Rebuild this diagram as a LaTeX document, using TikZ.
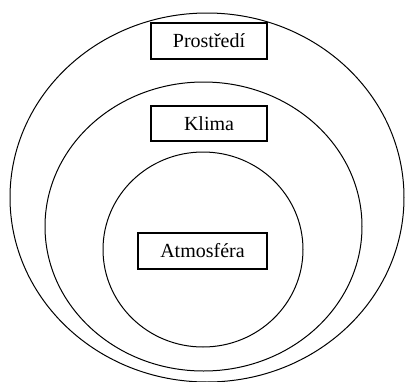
\documentclass[tikz,border=0pt]{standalone}
\usepackage{fontspec}
\setmainfont{Liberation Serif}
\begin{document}
\begin{tikzpicture}[x=1pt,y=-1pt,
  ring/.style={draw=black,line width=1pt},
  label box/.style={draw=black,line width=1.2pt,minimum height=36pt,inner sep=0pt,font=\fontsize{20}{22}\selectfont}]
\useasboundingbox (0,0) rectangle (405,381);
\clip (0,0) rectangle (405,381);
\draw[ring] (207,197.5) ellipse [x radius=197, y radius=184.5];
\draw[ring] (203.5,226.5) ellipse [x radius=158.5, y radius=144.5];
\draw[ring] (203,249.5) ellipse [x radius=100, y radius=97.5];
\node[label box,minimum width=116pt] (prostredi) at (209,41) {Prostředí};
\node[label box,minimum width=116pt,minimum height=35pt] (klima) at (209,123.5) {Klima};
\node[label box,minimum width=129pt] (atmosfera) at (202.5,251) {Atmosféra};
\end{tikzpicture}
\end{document}
